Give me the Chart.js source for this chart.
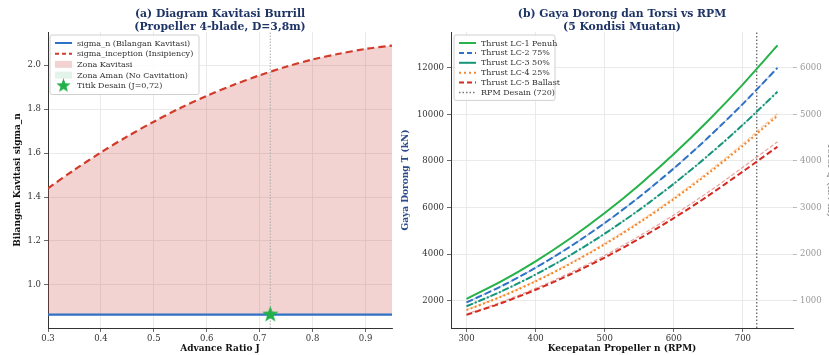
<!DOCTYPE html>
<html>
<head>
<meta charset="utf-8">
<script src="https://cdn.jsdelivr.net/npm/chart.js@4.4.0/dist/chart.umd.min.js"></script>
<style>
html,body{margin:0;padding:0;background:#fff;overflow:hidden;width:829px;height:355px;}
canvas{position:absolute;top:0;}
#cA{left:0px;}
#cB{left:396px;}
</style>
</head>
<body>
<canvas id="cA" width="420" height="355"></canvas>
<canvas id="cB" width="440" height="355"></canvas>
<script>
// ---------- DATA (a) ----------
const advanceJ = [0.30,0.35,0.40,0.45,0.50,0.55,0.60,0.65,0.70,0.75,0.80,0.85,0.90,0.95];
const sigmaN = [0.865,0.865,0.865,0.865,0.865,0.865,0.865,0.865,0.865,0.865,0.865,0.865,0.865,0.865];
const sigmaInception = [1.440,1.524,1.603,1.676,1.743,1.805,1.860,1.910,1.954,1.993,2.026,2.052,2.074,2.089];
const designJ = 0.72;
const designSigma = 0.865;
const xTicksA = [0.3,0.4,0.5,0.6,0.7,0.8,0.9];
const yTicksA = [1.0,1.2,1.4,1.6,1.8,2.0];

// ---------- DATA (b) ----------
const rpm = [300,350,400,450,500,550,600,650,700,750];
const thrustLC1 = [2074,2822,3686,4666,5760,6970,8294,9734,11290,12960];
const thrustLC2 = [1920,2613,3413,4319,5333,6452,7679,9012,10452,11998];
const thrustLC3 = [1755,2389,3120,3949,4875,5899,7020,8239,9555,10969];
const thrustLC4 = [1590,2164,2827,3578,4417,5344,6360,7464,8657,9938];
const thrustLC5 = [1386,1887,2464,3119,3850,4659,5544,6507,7546,8610];
const torqueLC1 = [1037,1411,1843,2333,2880,3485,4147,4867,5645,6480];
const torqueLC2 = [960,1307,1707,2160,2667,3226,3840,4506,5226,5999];
const torqueLC3 = [878,1195,1560,1975,2438,2950,3510,4120,4778,5485];
const torqueLC4 = [803,1093,1428,1807,2231,2699,3212,3770,4372,5018];
const torqueLC5 = [710,966,1262,1597,1971,2386,2839,3332,3864,4410];
const designRPM = 720;
const xTicksB = [300,400,500,600,700];
const yTicksB = [2000,4000,6000,8000,10000,12000];
const y2TicksB = [1000,2000,3000,4000,5000,6000];
const labelsB = ['Thrust LC-1 Penuh','Thrust LC-2 75%','Thrust LC-3 50%','Thrust LC-4 25%','Thrust LC-5 Ballast'];

// ---------- STYLE ----------
const SERIF = "'DejaVu Serif', 'Liberation Serif', serif";
const GRID = '#e4e4e4';
const C_BLUE = '#2f72c4', C_RED = '#d23a2a', C_STAR = '#22b04a';
const lcColors = ['#27b24a','#2f72c4','#17957a','#f5862b','#d42a20'];
const lcDash = [[], [7,3], [7,2,2,2], [2,2.4], [6,3]];

function makeStar(size, color){
  const c = document.createElement('canvas');
  c.width = size; c.height = size;
  const g = c.getContext('2d');
  const cx = size/2, cy = size/2, R = size/2, r = R*0.42;
  g.beginPath();
  for(let i=0;i<10;i++){
    const ang = -Math.PI/2 + i*Math.PI/5;
    const rad = i%2===0 ? R : r;
    const px = cx + rad*Math.cos(ang), py = cy + rad*Math.sin(ang);
    if(i===0) g.moveTo(px,py); else g.lineTo(px,py);
  }
  g.closePath(); g.fillStyle = color; g.fill();
  return c;
}
const starImg = makeStar(17, C_STAR);
const starLeg = makeStar(15, C_STAR);

// titles + legend plugin
const decor = {
  id:'decor',
  afterDraw(chart, args, o){
    const ctx = chart.ctx, ca = chart.chartArea;
    ctx.save();
    ctx.fillStyle = '#1f3466';
    ctx.font = 'bold 10.8px ' + SERIF;
    ctx.textAlign = 'center'; ctx.textBaseline = 'middle';
    const cx = (ca.left + ca.right)/2 + (o.titleDx||0);
    o.titles.forEach((t,i)=> ctx.fillText(t, cx, 14.5 + i*13));
    const L = o.legend;
    const x0 = L.x, y0 = L.y, w = L.w, h = L.rows*L.dy + 6;
    ctx.beginPath();
    if (ctx.roundRect) ctx.roundRect(x0, y0, w, h, 2); else ctx.rect(x0,y0,w,h);
    ctx.fillStyle = 'rgba(255,255,255,0.85)'; ctx.fill();
    ctx.strokeStyle = '#d0d0d0'; ctx.lineWidth = 1; ctx.stroke();
    ctx.font = '8px ' + SERIF;
    ctx.textAlign = 'left'; ctx.textBaseline = 'middle';
    L.items.forEach((it,i)=>{
      const yy = y0 + 8 + i*L.dy;
      const hx = x0 + 5, hw = 17;
      if(it.type==='line'){
        ctx.beginPath(); ctx.setLineDash(it.dash||[]);
        ctx.strokeStyle = it.color; ctx.lineWidth = it.width||2;
        ctx.moveTo(hx, yy); ctx.lineTo(hx+hw, yy); ctx.stroke();
        ctx.setLineDash([]);
      } else if(it.type==='rect'){
        ctx.fillStyle = it.color; ctx.fillRect(hx, yy-3.5, hw, 7);
      } else if(it.type==='star'){
        ctx.drawImage(starLeg, hx + hw/2 - 7.5, yy - 7.5);
      }
      ctx.fillStyle = '#333';
      ctx.fillText(it.label, hx + hw + 5, yy + 0.5);
    });
    ctx.restore();
  }
};

function fixTicks(list){ return function(scale){ scale.ticks = list.map(v=>({value:v})); }; }
function axisCommon(fmt, pad){
  return {
    grid:{color:GRID, lineWidth:0.8, tickColor:'#444', tickLength:4},
    border:{color:'#333', width:1},
    ticks:{font:{family:SERIF,size:8.5}, color:'#333', padding:pad, maxRotation:0, autoSkip:false, callback:fmt}
  };
}
const f1 = v => v.toFixed(1);
const f0 = v => String(Math.round(v));

// ---------- CHART A ----------
new Chart(document.getElementById('cA'), {
  type:'line',
  data:{
    datasets:[
      {label:'Titik Desain (J=0,72)', data:[{x:designJ,y:designSigma}], showLine:false,
       pointStyle:starImg, pointRadius:8, order:0},
      {label:'sigma_n (Bilangan Kavitasi)', data:advanceJ.map((x,i)=>({x, y:sigmaN[i]})),
       borderColor:C_BLUE, borderWidth:2.2, pointRadius:0, order:1},
      {label:'sigma_inception (Insipiency)', data:advanceJ.map((x,i)=>({x, y:sigmaInception[i]})),
       borderColor:C_RED, borderWidth:2.2, borderDash:[7,4], pointRadius:0, tension:0.3, order:2,
       fill:{target:1, above:'rgba(205,80,70,0.25)', below:'rgba(60,180,110,0.15)'}},
      {label:'design', data:[{x:designJ,y:0.804},{x:designJ,y:2.151}],
       borderColor:'#aaa', borderWidth:1, borderDash:[1.5,1.5], pointRadius:0, order:3}
    ]
  },
  options:{
    responsive:false, animation:false, devicePixelRatio:1,
    layout:{padding:{top:32, right:28, left:0, bottom:0}},
    plugins:{legend:{display:false}, tooltip:{enabled:false}, title:{display:false},
      filler:{drawTime:'beforeDatasetsDraw'},
      decor:{titles:['(a) Diagram Kavitasi Burrill','(Propeller 4-blade, D=3,8m)'],
        legend:{x:50, y:35, w:149, dy:10.7, rows:5, items:[
          {type:'line', color:C_BLUE, width:2, label:'sigma_n (Bilangan Kavitasi)'},
          {type:'line', color:C_RED, width:2, dash:[4,3], label:'sigma_inception (Insipiency)'},
          {type:'rect', color:'rgba(205,80,70,0.25)', label:'Zona Kavitasi'},
          {type:'rect', color:'rgba(60,180,110,0.15)', label:'Zona Aman (No Cavitation)'},
          {type:'star', label:'Titik Desain (J=0,72)'}
        ]}}
    },
    scales:{
      x:Object.assign(axisCommon(f1,2), {type:'linear', min:0.3, max:0.95, afterBuildTicks:fixTicks(xTicksA),
        afterFit(s){ s.height = 27; },
        title:{display:true, text:'Advance Ratio J', font:{family:SERIF,size:9,weight:'bold'}, color:'#111', padding:{top:0,bottom:1}}}),
      y:Object.assign(axisCommon(f1,3), {type:'linear', min:0.804, max:2.151, afterBuildTicks:fixTicks(yTicksA),
        afterFit(s){ s.width = 48; },
        title:{display:true, text:'Bilangan Kavitasi sigma_n', font:{family:SERIF,size:9,weight:'bold'}, color:'#111', padding:{top:12,bottom:0}}})
    }
  },
  plugins:[decor]
});

// ---------- CHART B ----------
const dsB = [];
const thrusts = [thrustLC1,thrustLC2,thrustLC3,thrustLC4,thrustLC5];
const torques = [torqueLC1,torqueLC2,torqueLC3,torqueLC4,torqueLC5];
thrusts.forEach((arr,k)=>{
  dsB.push({label:labelsB[k], data:rpm.map((x,i)=>({x,y:arr[i]})), yAxisID:'y',
    borderColor:lcColors[k], borderWidth:2, borderDash:lcDash[k], pointRadius:0, tension:0.3, order:k});
});
torques.forEach((arr,k)=>{
  dsB.push({label:'Torsi LC-'+(k+1), data:rpm.map((x,i)=>({x,y:arr[i]})), yAxisID:'y2',
    borderColor:lcColors[k]+'70', borderWidth:1.2, borderDash:lcDash[k].length?[4,2]:[], pointRadius:0, tension:0.3, order:10+k});
});
dsB.push({label:'RPM Desain (720)', data:[{x:designRPM,y:822},{x:designRPM,y:13538}], yAxisID:'y',
  borderColor:'#666', borderWidth:1.3, borderDash:[1.5,2], pointRadius:0, order:20});

new Chart(document.getElementById('cB'), {
  type:'line',
  data:{datasets:dsB},
  options:{
    responsive:false, animation:false, devicePixelRatio:1,
    layout:{padding:{top:32, right:0, left:0, bottom:0}},
    plugins:{legend:{display:false}, tooltip:{enabled:false}, title:{display:false},
      decor:{titles:['(b) Gaya Dorong dan Torsi vs RPM','(5 Kondisi Muatan)'],
        legend:{x:58, y:35, w:101, dy:9.9, rows:6, items:[
          {type:'line', color:lcColors[0], width:2, label:labelsB[0]},
          {type:'line', color:lcColors[1], width:2, dash:[5,3], label:labelsB[1]},
          {type:'line', color:lcColors[2], width:2, label:labelsB[2]},
          {type:'line', color:lcColors[3], width:2, dash:[2,3], label:labelsB[3]},
          {type:'line', color:lcColors[4], width:2, dash:[5,3], label:labelsB[4]},
          {type:'line', color:'#777', width:1.3, dash:[1.5,2], label:'RPM Desain (720)'}
        ]}}
    },
    scales:{
      x:Object.assign(axisCommon(f0,2), {type:'linear', min:277.5, max:772.5, afterBuildTicks:fixTicks(xTicksB),
        afterFit(s){ s.height = 27; },
        title:{display:true, text:'Kecepatan Propeller n (RPM)', font:{family:SERIF,size:9,weight:'bold'}, color:'#111', padding:{top:0,bottom:1}}}),
      y:Object.assign(axisCommon(f0,3), {type:'linear', position:'left', min:822, max:13538, afterBuildTicks:fixTicks(yTicksB),
        afterFit(s){ s.width = 55; },
        title:{display:true, text:'Gaya Dorong T (kN)', font:{family:SERIF,size:9,weight:'bold'}, color:'#2b4b8c', padding:{top:4,bottom:0}}}),
      y2:{type:'linear', position:'right', min:411, max:6769, afterBuildTicks:fixTicks(y2TicksB),
        afterFit(s){ s.width = 43; },
        grid:{drawOnChartArea:false, tickColor:'#bbb', tickLength:4},
        border:{display:false},
        ticks:{font:{family:SERIF,size:8.5}, color:'#999', padding:3, callback:f0},
        title:{display:true, text:'Torsi Q (kN·m)', font:{family:SERIF,size:9,weight:'bold'}, color:'#999', padding:{top:0,bottom:1}}}
    }
  },
  plugins:[decor]
});
</script>
</body>
</html>
